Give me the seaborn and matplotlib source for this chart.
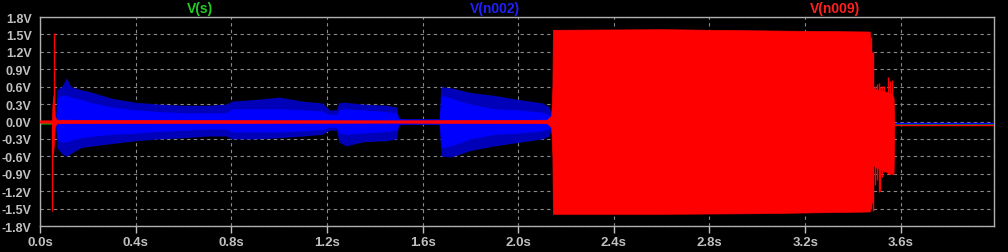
import numpy as np
import pandas as pd
import matplotlib
matplotlib.use("Agg")
import matplotlib.pyplot as plt
import seaborn as sns

# ---------------- data ----------------
# V(n009) (red) solid body envelope
red_t  = [0.0, 0.050, 0.052, 0.056, 0.062, 0.068, 0.5, 1.5, 2.12, 2.138, 2.143, 2.145,
          2.6, 3.0, 3.47, 3.474, 3.485, 3.50, 3.53, 3.56, 3.570, 3.573]
red_hi = [0.02, 0.02, 0.30, 0.45, 0.10, 0.03, 0.025, 0.02, 0.03, 0.10, 0.60, 1.58,
          1.59, 1.57, 1.55, 1.30, 0.58, 0.55, 0.52, 0.48, 0.42, -0.06]
red_lo = [-0.02, -0.02, -0.60, -0.50, -0.10, -0.03, -0.025, -0.02, -0.03, -0.10, -0.60, -1.59,
          -1.59, -1.58, -1.55, -1.45, -0.75, -0.80, -0.85, -0.90, -0.90, -0.06]
# red isolated spikes: time, low, high
red_spk_t  = [0.052, 0.060, 3.476, 3.480, 3.485, 3.494, 3.500, 3.508, 3.512, 3.522, 3.530, 3.548, 3.556, 3.564]
red_spk_lo = [-1.54, 0.0, -1.50, -1.40, -1.54, -1.10, -1.00, -1.22, -1.20, -0.95, -0.87, -0.90, -0.90, -0.90]
red_spk_hi = [0.0, 1.52, 1.45, 1.20, 1.19, 0.62, 0.65, 0.66, 0.60, 0.62, 0.62, 0.77, 0.70, 0.72]

# V(n002) (blue) envelopes
blue_t  = [0.066, 0.07, 0.09, 0.11, 0.13, 0.17, 0.22, 0.30, 0.40, 0.50, 0.60, 0.70, 0.78, 0.80,
           0.90, 1.00, 1.10, 1.18, 1.21, 1.24, 1.25, 1.28, 1.35, 1.45, 1.49, 1.50, 1.52, 1.60,
           1.67, 1.675, 1.68, 1.72, 1.80, 1.90, 2.00, 2.10, 2.13, 2.14]
blue_hi = [0.0, 0.40, 0.45, 0.45, 0.42, 0.38, 0.32, 0.25, 0.20, 0.17, 0.15, 0.15, 0.15, 0.22,
           0.22, 0.22, 0.20, 0.18, 0.12, 0.12, 0.20, 0.22, 0.20, 0.17, 0.15, 0.05, 0.04, 0.04,
           0.04, 0.30, 0.45, 0.40, 0.30, 0.22, 0.20, 0.16, 0.12, 0.05]
blue_lo = [0.0, -0.30, -0.35, -0.35, -0.32, -0.28, -0.25, -0.22, -0.20, -0.17, -0.15, -0.13, -0.13, -0.18,
           -0.18, -0.18, -0.16, -0.14, -0.10, -0.10, -0.20, -0.22, -0.20, -0.17, -0.15, -0.05, -0.04, -0.04,
           -0.04, -0.30, -0.45, -0.42, -0.30, -0.22, -0.20, -0.16, -0.12, -0.05]
blue_ohi = [0.0, 0.55, 0.60, 0.75, 0.60, 0.55, 0.50, 0.40, 0.33, 0.30, 0.28, 0.28, 0.30, 0.35,
            0.38, 0.42, 0.35, 0.32, 0.20, 0.20, 0.33, 0.33, 0.30, 0.28, 0.25, 0.06, 0.05, 0.05,
            0.05, 0.55, 0.60, 0.58, 0.50, 0.45, 0.38, 0.32, 0.25, 0.10]
blue_olo = [0.0, -0.45, -0.55, -0.60, -0.55, -0.45, -0.42, -0.38, -0.33, -0.30, -0.28, -0.25, -0.25, -0.30,
            -0.30, -0.28, -0.25, -0.22, -0.15, -0.15, -0.35, -0.42, -0.35, -0.33, -0.30, -0.06, -0.05, -0.05,
            -0.05, -0.45, -0.60, -0.61, -0.50, -0.42, -0.36, -0.30, -0.25, -0.10]

# settled levels after the burst
tail_t   = [3.573, 3.99]
blue_end = [-0.026, -0.026]
green_t  = [0.0, 3.573, 3.99]
green_v  = [-0.04, -0.043, -0.043]
red_end  = [-0.06, -0.06]

y_ticks = [-1.8, -1.5, -1.2, -0.9, -0.6, -0.3, 0.0, 0.3, 0.6, 0.9, 1.2, 1.5, 1.8]
x_ticks = [0.0, 0.4, 0.8, 1.2, 1.6, 2.0, 2.4, 2.8, 3.2, 3.6]

# ---------------- styling ----------------
sns.set_theme(style="dark")
plt.rcParams['font.family'] = ['Liberation Sans', 'DejaVu Sans']
plt.rcParams['axes.unicode_minus'] = False

C_RED = "#ff0000"
C_BLUE = "#0000ff"
C_GREEN = "#00d000"
C_TICK = "#c0c0c0"

fig = plt.figure(figsize=(10.08, 2.53), dpi=100, facecolor="black")
ax = fig.add_axes([40 / 1008, 26 / 253, 954 / 1008, 209 / 253])
ax.set_facecolor("black")

# green V(s)
gdf = pd.DataFrame({"t": green_t, "v": green_v})
sns.lineplot(data=gdf, x="t", y="v", ax=ax, color=C_GREEN, lw=1.0, zorder=2, estimator=None)

# blue V(n002)
ax.fill_between(blue_t, blue_olo, blue_ohi, color="#0000b8", lw=0, zorder=3)
ax.fill_between(blue_t, blue_lo, blue_hi, color=C_BLUE, lw=0, zorder=4)
bdf = pd.DataFrame({"t": tail_t, "v": blue_end})
sns.lineplot(data=bdf, x="t", y="v", ax=ax, color=C_BLUE, lw=1.0, zorder=4, estimator=None)

# red V(n009)
ax.fill_between(red_t, red_lo, red_hi, color=C_RED, lw=0.5, edgecolor=C_RED, zorder=5)
ax.vlines(red_spk_t, red_spk_lo, red_spk_hi, color=C_RED, lw=1.0, zorder=5)
rdf = pd.DataFrame({"t": tail_t, "v": red_end})
sns.lineplot(data=rdf, x="t", y="v", ax=ax, color=C_RED, lw=1.0, zorder=5, estimator=None)

ax.set_xlim(0, 3.99)
ax.set_ylim(-1.8, 1.8)
ax.set_xticks(x_ticks)
ax.set_yticks(y_ticks)
ax.set_xticklabels([f"{v:.1f}s" for v in x_ticks])
ax.set_yticklabels([f"{v:.1f}V" for v in y_ticks])
ax.set_xlabel("")
ax.set_ylabel("")

ax.grid(True, color="#8a8a8a", lw=0.8, linestyle=(0, (3, 3)), zorder=1)
ax.set_axisbelow(True)
for s in ax.spines.values():
    s.set_color("#b0b0b0")
    s.set_linewidth(1.0)
    s.set_visible(True)

ax.tick_params(axis="x", colors=C_TICK, length=5, width=1, pad=2, labelsize=9.5, direction="out", bottom=True)
ax.tick_params(axis="y", colors=C_TICK, length=0, pad=6, labelsize=9, left=True)
for lab in ax.get_xticklabels() + ax.get_yticklabels():
    lab.set_fontweight("bold")
    lab.set_color(C_TICK)

fig.text(200 / 1008, 1 - 9 / 253, "V(s)", color="#22cc22", fontsize=10, fontweight="bold", ha="center", va="center")
fig.text(495 / 1008, 1 - 9 / 253, "V(n002)", color="#2020ff", fontsize=10, fontweight="bold", ha="center", va="center")
fig.text(835 / 1008, 1 - 9 / 253, "V(n009)", color="#ff2020", fontsize=10, fontweight="bold", ha="center", va="center")

fig.savefig("out.png", dpi=100, facecolor="black")
